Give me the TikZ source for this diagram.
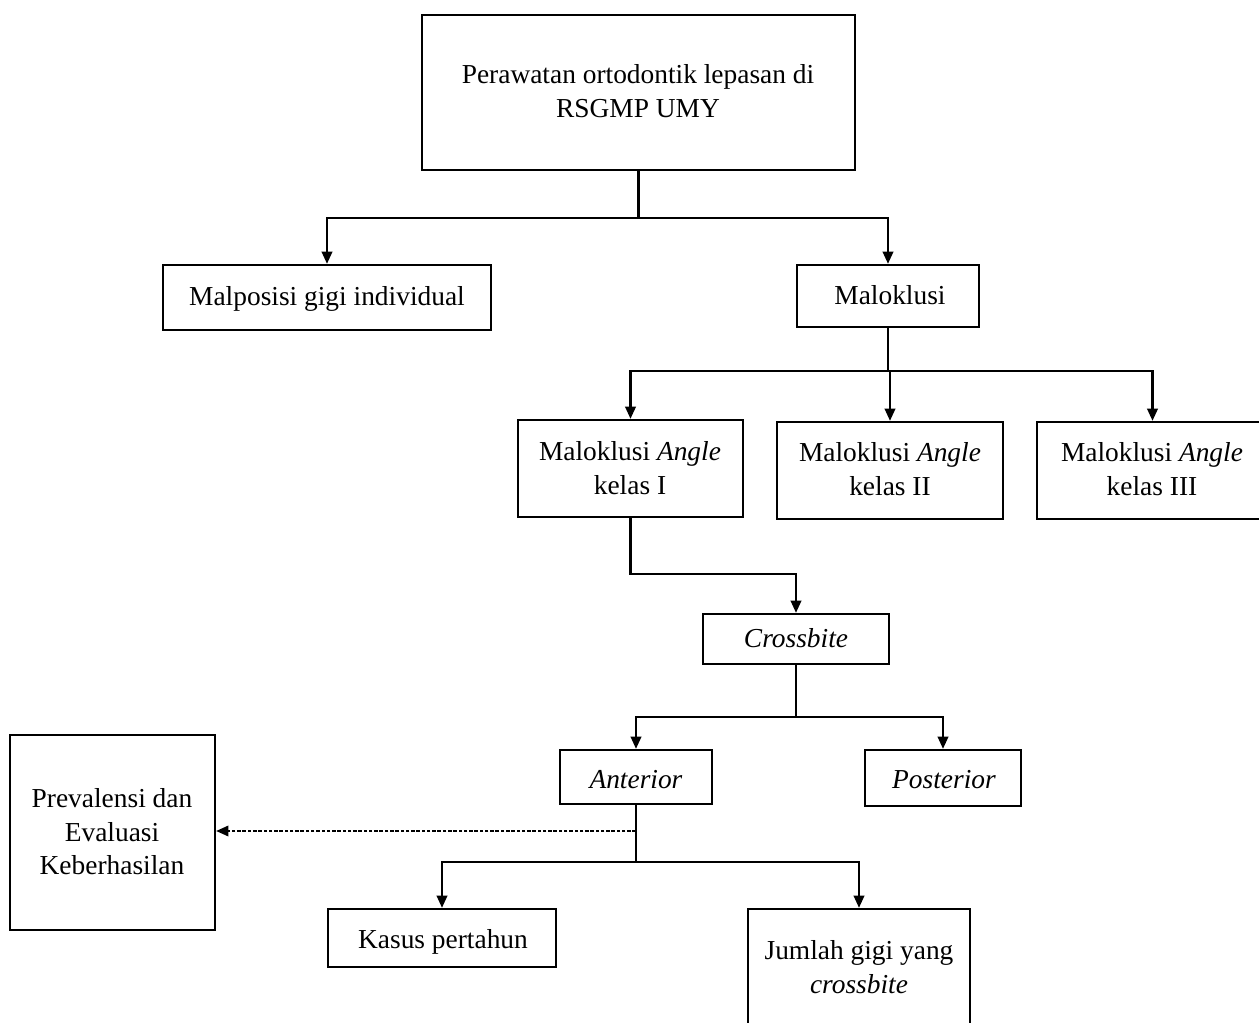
\documentclass[tikz,border=0pt]{standalone}
\usepackage{fontspec}
\setmainfont{Liberation Serif}
\usetikzlibrary{arrows.meta,fit}
\begin{document}
\begin{tikzpicture}[x=0.02cm,y=-0.02cm,
  box/.style={draw, line width=1.3pt, inner sep=0pt},
  txt/.style={font=\fontsize{15.6}{19}\selectfont, align=center, inner sep=0pt},
  ln/.style={line width=1.3pt},
  arr/.style={line width=1.3pt, -{Triangle[length=7pt,width=6pt]}},
  darr/.style={line width=1pt, dash pattern=on 2pt off 1pt, -{Triangle[length=7pt,width=6pt]}}]
\fill[white] (0,0) rectangle (1259,1023);
\useasboundingbox (0,0) rectangle (1259,1023);

% boxes
\node[box, fit={(422,15) (855,170)}] (top) {};
\node[box, fit={(163,265) (491,330)}] (malp) {};
\node[box, fit={(797,265) (979,327)}] (malo) {};
\node[box, fit={(518,420) (743,517)}] (a1) {};
\node[box, fit={(777,422) (1003,519)}] (a2) {};
\node[box, fit={(1037,422) (1268,519)}] (a3) {};
\node[box, fit={(703,614) (889,664)}] (cross) {};
\node[box, fit={(560,750) (712,804)}] (ant) {};
\node[box, fit={(865,750) (1021,806)}] (post) {};
\node[box, fit={(10,735) (215,930)}] (prev) {};
\node[box, fit={(328,909) (556,967)}] (kasus) {};
\node[box, fit={(748,909) (970,1035)}] (jml) {};

% texts
\node[txt] (ttop) at (638,91) {Perawatan ortodontik lepasan di\\RSGMP UMY};
\node[txt, anchor=base] (tmalp) at (327,306) {Malposisi gigi individual};
\node[txt, anchor=base] (tmalo) at (890,305) {Maloklusi};
\node[txt] (ta1) at (630,468) {Maloklusi \textit{Angle}\\kelas I};
\node[txt] (ta2) at (890,469) {Maloklusi \textit{Angle}\\kelas II};
\node[txt] (ta3) at (1152,469) {Maloklusi \textit{Angle}\\kelas III};
\node[txt, anchor=base] (tcross) at (796,648) {\textit{Crossbite}};
\node[txt, anchor=base] (tant) at (636,789) {\textit{Anterior}};
\node[txt, anchor=base] (tpost) at (944,789) {\textit{Posterior}};
\node[txt] (tprev) at (112,832) {Prevalensi dan\\Evaluasi\\Keberhasilan};
\node[txt, anchor=base] (tkasus) at (443,949) {Kasus pertahun};
\node[txt] (tjml) at (859,967) {Jumlah gigi yang\\\textit{crossbite}};

% junctions
\coordinate (j1) at (top.south |- 0,218);
\coordinate (j2) at (malo.south |- 0,371);
\coordinate (j3) at (cross.south |- 0,717);
\coordinate (j4) at (ant.south |- 0,862);
\coordinate (d1) at (ant.south |- 0,831);

% connectors
\draw[ln] (top.south) -- (j1);
\draw[arr] (j1) -| (malp.north);
\draw[arr] (j1) -| (malo.north);
\draw[ln] (malo.south) -- (j2);
\draw[arr] (j2) -| (a1.north);
\draw[arr] (j2) -| (a2.north);
\draw[arr] (j2) -| (a3.north);
\draw[arr] (a1.south) -- ++(0,56) -| (cross.north);
\draw[ln] (cross.south) -- (j3);
\draw[arr] (j3) -| (ant.north);
\draw[arr] (j3) -| (post.north);
\draw[ln] (ant.south) -- (j4);
\draw[arr] (j4) -| (kasus.north);
\draw[arr] (j4) -| (jml.north);
\draw[darr] (d1) -- (prev.east |- d1);
\end{tikzpicture}
\end{document}
